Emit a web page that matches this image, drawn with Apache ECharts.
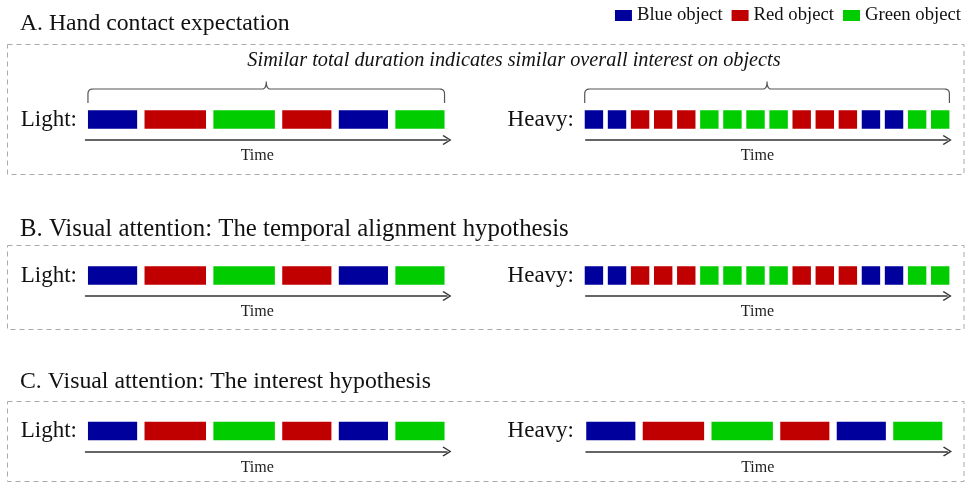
<!DOCTYPE html>
<html>
<head>
<meta charset="utf-8">
<script src="https://cdn.jsdelivr.net/npm/echarts@6/dist/echarts.min.js"></script>
<style>
    html, body {margin:0;padding:0;background:#fff}
    #main {width:968px;height:482px}
</style>
</head>
<body>
<div id="main"></div>
<script>
    var objectNames = ['Blue object', 'Red object', 'Green object'];
    var objectColors = ['#00009C', '#C00000', '#00CC00'];

    // fixation sequences (0 = blue, 1 = red, 2 = green) and durations in time units
    var lightSequence = [0, 1, 2, 1, 0, 2];
    var lightDurations = [2.0, 2.5, 2.5, 2.0, 2.0, 2.0];
    var lightGap = 0.3;

    var heavySequence = [0, 0, 1, 1, 1, 2, 2, 2, 2, 1, 1, 1, 0, 0, 2, 2];
    var heavyDurations = [0.75, 0.75, 0.75, 0.75, 0.75, 0.75, 0.75, 0.75,
                          0.75, 0.75, 0.75, 0.75, 0.75, 0.75, 0.75, 0.75];
    var heavyGap = 0.19;

    var panelTitles = [
        'A. Hand contact expectation',
        'B. Visual attention: The temporal alignment hypothesis',
        'C. Visual attention: The interest hypothesis'
    ];
    var rowLabels = ['Light:', 'Heavy:'];
    var axisName = 'Time';
    var braceNote = 'Similar total duration indicates similar overall interest on objects';

    var FONT = 'Liberation Serif, Times New Roman, serif';

    // build start/end segments from a sequence of durations
    function toSegments(seq, durations, gap) {
        var t = 0, out = [];
        for (var i = 0; i < seq.length; i++) {
            out.push({start: t, end: t + durations[i], obj: seq[i]});
            t += durations[i] + gap;
        }
        return out;
    }

    var lightSegs = toSegments(lightSequence, lightDurations, lightGap);
    var heavySegs = toSegments(heavySequence, heavyDurations, heavyGap);

    var rows = [
        {label: 0, segs: lightSegs, range: [-0.1, 14.6], left: 85.5, top: 99, margin: 8.5},
        {label: 1, segs: heavySegs, range: [0.04, 14.76], left: 585.7, top: 99, margin: 11.7},
        {label: 0, segs: lightSegs, range: [-0.1, 14.6], left: 85.5, top: 255, margin: 8.5},
        {label: 1, segs: heavySegs, range: [0.04, 14.76], left: 585.7, top: 255, margin: 11.7},
        {label: 0, segs: lightSegs, range: [-0.1, 14.6], left: 85.5, top: 410.5, margin: 8.5},
        {label: 1, segs: lightSegs, range: [-0.01, 14.71], left: 586, top: 410.5, margin: 12}
    ];

    var arrowPath = 'path://M5,0 L10,8 L9,9 L5,2.4 L1,9 L0,8 Z';

    var grids = [], xAxes = [], yAxes = [], series = [];
    rows.forEach(function (row, i) {
        grids.push({left: row.left, top: row.top, width: 361.5, height: 41});
        xAxes.push({
            type: 'value', gridIndex: i, min: row.range[0], max: row.range[1],
            name: axisName, nameLocation: 'middle', nameGap: 8,
            nameTextStyle: {fontFamily: FONT, fontSize: 16, color: '#222', padding: [0, 18, 0, 0]},
            axisLine: {show: true, symbol: ['none', arrowPath], symbolSize: [11, 9],
                lineStyle: {color: '#333', width: 1.5}},
            axisTick: {show: false}, axisLabel: {show: false}, splitLine: {show: false}
        });
        yAxes.push({
            type: 'category', gridIndex: i, data: [rowLabels[row.label]],
            axisLine: {show: false}, axisTick: {show: false},
            axisLabel: {fontFamily: FONT, fontSize: 23, color: '#111', margin: row.margin, padding: [2, 0, 0, 0]}
        });
        objectNames.forEach(function (name, k) {
            series.push({
                type: 'custom', name: name, xAxisIndex: i, yAxisIndex: i,
                itemStyle: {color: objectColors[k]},
                renderItem: function (params, api) {
                    var p0 = api.coord([api.value(0), 0]);
                    var p1 = api.coord([api.value(1), 0]);
                    var h = 18.5;
                    return {
                        type: 'rect',
                        shape: {x: p0[0], y: p0[1] - h / 2, width: p1[0] - p0[0], height: h},
                        style: {fill: api.visual('color')}
                    };
                },
                encode: {x: [0, 1]},
                data: row.segs.filter(function (s) { return s.obj === k; })
                    .map(function (s) { return [s.start, s.end]; })
            });
        });
    });

    var chart = echarts.init(document.getElementById('main'));
    chart.setOption({
        animation: false,
        legend: {
            data: objectNames, right: 7, top: 6, padding: 0,
            icon: 'rect', itemWidth: 17, itemHeight: 11, itemGap: 9,
            textStyle: {fontFamily: FONT, fontSize: 18.7, color: '#111'}
        },
        grid: grids,
        xAxis: xAxes,
        yAxis: yAxes,
        series: series
    });

    // sampled quadratic curve
    function quad(p0, c, p1, pts) {
        for (var s = 1; s <= 8; s++) {
            var t = s / 8, u = 1 - t;
            pts.push([u * u * p0[0] + 2 * u * t * c[0] + t * t * p1[0],
                      u * u * p0[1] + 2 * u * t * c[1] + t * t * p1[1]]);
        }
    }

    // curly brace over a row, spanning its first to last segment
    function braceFor(rowIndex) {
        var segs = rows[rowIndex].segs;
        var x0 = chart.convertToPixel({xAxisIndex: rowIndex}, segs[0].start);
        var x1 = chart.convertToPixel({xAxisIndex: rowIndex}, segs[segs.length - 1].end);
        var xc = (x0 + x1) / 2, yTop = 89, yBot = 103, yPeak = 81.5, r = 5;
        var pts = [[x0, yBot], [x0, yTop + r]];
        quad([x0, yTop + r], [x0, yTop], [x0 + r, yTop], pts);
        pts.push([xc - 4, yTop]);
        quad([xc - 4, yTop], [xc, yTop], [xc, yPeak], pts);
        quad([xc, yPeak], [xc, yTop], [xc + 4, yTop], pts);
        pts.push([x1 - r, yTop]);
        quad([x1 - r, yTop], [x1, yTop], [x1, yTop + r], pts);
        pts.push([x1, yBot]);
        return {type: 'polyline', shape: {points: pts}, style: {stroke: '#555', lineWidth: 1.2, fill: null}};
    }

    var boxes = [[44.5, 130], [245.5, 84], [401.5, 80]];
    var titleY = [24, 229.3, 381.8];
    var titleSize = [23.7, 24.8, 23.8];
    var graphics = [];
    boxes.forEach(function (b, i) {
        graphics.push({type: 'rect', shape: {x: 7.5, y: b[0], width: 956.5, height: b[1]},
            style: {fill: null, stroke: '#aaa', lineWidth: 1, lineDash: [5, 4]}});
        graphics.push({type: 'text', x: 20, y: titleY[i],
            style: {text: panelTitles[i], font: titleSize[i] + 'px ' + FONT, fill: '#111', textVerticalAlign: 'middle'}});
    });
    graphics.push({type: 'text', x: 514, y: 61,
        style: {text: braceNote, font: 'italic 20.3px ' + FONT, fill: '#111',
            textAlign: 'center', textVerticalAlign: 'middle'}});
    graphics.push(braceFor(0));
    graphics.push(braceFor(1));

    chart.setOption({graphic: graphics});
</script>
</body>
</html>
